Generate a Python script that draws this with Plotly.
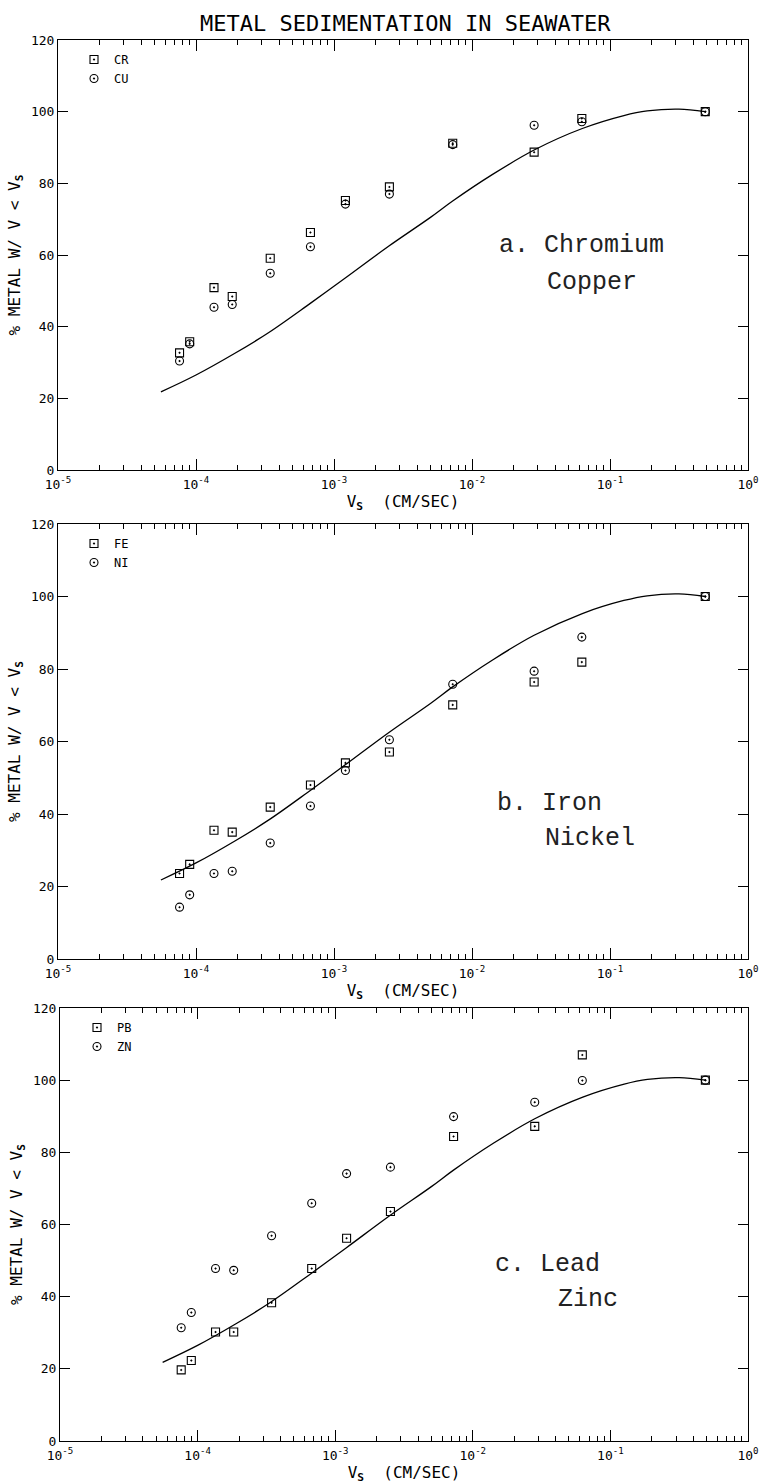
import plotly.graph_objects as go

# ---------------- data ----------------
V_S = [7.6e-5, 9.0e-5, 1.35e-4, 1.83e-4, 3.45e-4, 6.75e-4, 1.21e-3, 2.52e-3,
       7.25e-3, 0.0282, 0.0625, 0.49]

CR = [32.7, 35.8, 50.9, 48.4, 59.1, 66.3, 75.2, 79.0, 91.2, 88.7, 98.1, 100.0]
CU = [30.4, 35.2, 45.4, 46.2, 54.9, 62.3, 74.2, 77.0, 90.8, 96.2, 97.2, 100.0]

FE = [23.6, 26.1, 35.5, 35.0, 41.9, 48.0, 54.1, 57.1, 70.1, 76.4, 81.9, 100.0]
NI = [14.3, 17.7, 23.6, 24.2, 32.0, 42.2, 52.0, 60.5, 75.8, 79.4, 88.8, 100.0]

PB = [19.7, 22.3, 30.2, 30.2, 38.3, 47.8, 56.2, 63.6, 84.4, 87.2, 107.0, 100.0]
ZN = [31.4, 35.6, 47.8, 47.3, 56.9, 65.9, 74.1, 75.9, 89.9, 93.9, 99.9, 100.0]

CURVE_V = [5.57e-5, 1.0e-4, 1.9e-4, 3.35e-4, 6.73e-4, 1.2e-3, 2.5e-3, 5.0e-3,
           7.2e-3, 0.0141, 0.0282, 0.063, 0.126, 0.186, 0.316, 0.49]
CURVE_PCT = [21.8, 26.5, 32.5, 38.3, 46.5, 53.5, 62.5, 70.5,
             75.0, 82.5, 89.3, 95.3, 98.9, 100.2, 100.7, 100.0]

X_TICKVALS = [1e-5, 1e-4, 1e-3, 1e-2, 1e-1, 1e0]
X_TICKTEXT = ["10<sup>-5</sup>", "10<sup>-4</sup>", "10<sup>-3</sup>",
              "10<sup>-2</sup>", "10<sup>-1</sup>", "10<sup>0</sup>"]

PANELS = [
    ("CR", CR, "CU", CU, ["a. Chromium", "Copper"]),
    ("FE", FE, "NI", NI, ["b. Iron", "Nickel"]),
    ("PB", PB, "ZN", ZN, ["c. Lead", "Zinc"]),
]

TITLE = "METAL SEDIMENTATION IN SEAWATER"

# ---------------- layout geometry (pixels) ----------------
W, H = 759, 1484
# (left, right, top, bottom) of each plot area
BOXES = [(58, 748, 40, 470), (58, 748, 524, 959), (60, 748, 1008, 1441)]
TEXT_POS = [  # (x_left, y_center) line1, line2
    ((497, 246), (545, 283)),
    ((495, 803), (543, 838)),
    ((493, 1264), (556, 1299)),
]
LEGEND_POS = [(74, 45), (74, 529), (77, 1013)]

MONO = "DejaVu Sans Mono"
TYPE = "Courier New, Liberation Mono, monospace"

fig = go.Figure()

for i, (n1, s1, n2, s2, _) in enumerate(PANELS):
    sfx = "" if i == 0 else str(i + 1)
    xa, ya = "x" + sfx, "y" + sfx
    leg = "legend" + sfx
    fig.add_trace(go.Scatter(
        x=CURVE_V, y=CURVE_PCT, mode="lines", line=dict(color="black", width=1.3, shape="spline"),
        xaxis=xa, yaxis=ya, showlegend=False, hoverinfo="skip"))
    fig.add_trace(go.Scatter(
        x=V_S, y=s1, mode="markers", name=n1, legend=leg,
        marker=dict(symbol="square-open-dot", size=8, color="black", line=dict(width=1.1, color="black")),
        xaxis=xa, yaxis=ya))
    fig.add_trace(go.Scatter(
        x=V_S, y=s2, mode="markers", name=n2, legend=leg,
        marker=dict(symbol="circle-open-dot", size=8, color="black", line=dict(width=1.1, color="black")),
        xaxis=xa, yaxis=ya))

layout = dict(
    width=W, height=H, margin=dict(l=0, r=0, t=0, b=0),
    paper_bgcolor="white", plot_bgcolor="white",
    font=dict(family=MONO, color="black", size=13),
    annotations=[],
)

for i, (l, r, t, b) in enumerate(BOXES):
    sfx = "" if i == 0 else str(i + 1)
    layout["xaxis" + sfx] = dict(
        domain=[l / W, r / W], anchor="y" + sfx, type="log", range=[-5, 0],
        tickmode="array", tickvals=X_TICKVALS, ticktext=X_TICKTEXT,
        ticks="inside", ticklen=11, tickwidth=1, tickcolor="black",
        showline=True, linecolor="black", linewidth=1, mirror="ticks",
        showgrid=False, zeroline=False, automargin=False, ticklabeloverflow="allow",
        ticklabelstandoff=2,
        minor=dict(ticks="inside", ticklen=5, tickwidth=1, tickcolor="black", dtick="D1", showgrid=False),
        tickfont=dict(family=MONO, size=13),
        title=dict(text="V<sub><b>S</b></sub>  (CM/SEC)", font=dict(family=MONO, size=16), standoff=3),
    )
    layout["yaxis" + sfx] = dict(
        domain=[1 - b / H, 1 - t / H], anchor="x" + sfx, range=[0, 120],
        tickmode="linear", tick0=0, dtick=20,
        ticks="inside", ticklen=10, tickwidth=1, tickcolor="black",
        showline=True, linecolor="black", linewidth=1, mirror="ticks",
        showgrid=False, zeroline=False, automargin=False,
        tickfont=dict(family=MONO, size=13),
        title=dict(text="% METAL W/ V &lt; V<sub><b>S</b></sub>", font=dict(family=MONO, size=16), standoff=6),
    )
    lx, ly = LEGEND_POS[i]
    layout["legend" + sfx] = dict(
        x=lx / W, y=1 - ly / H, xanchor="left", yanchor="top",
        bgcolor="rgba(0,0,0,0)", borderwidth=0, itemwidth=30, tracegroupgap=0,
        font=dict(family=MONO, size=12), itemclick=False, itemdoubleclick=False,
    )
    (x1, y1), (x2, y2) = TEXT_POS[i]
    lines = PANELS[i][4]
    for (xx, yy), txt in zip([(x1, y1), (x2, y2)], lines):
        layout["annotations"].append(dict(
            text=txt, x=xx / W, y=1 - yy / H, xref="paper", yref="paper",
            xanchor="left", yanchor="middle", showarrow=False,
            font=dict(family=TYPE, size=25, color="#222")))

layout["annotations"].append(dict(
    text=TITLE, x=405 / W, y=1 - 24 / H, xref="paper", yref="paper",
    xanchor="center", yanchor="middle", showarrow=False,
    font=dict(family=MONO, size=22, color="black")))

fig.update_layout(**layout)
fig.write_html("out.html")
